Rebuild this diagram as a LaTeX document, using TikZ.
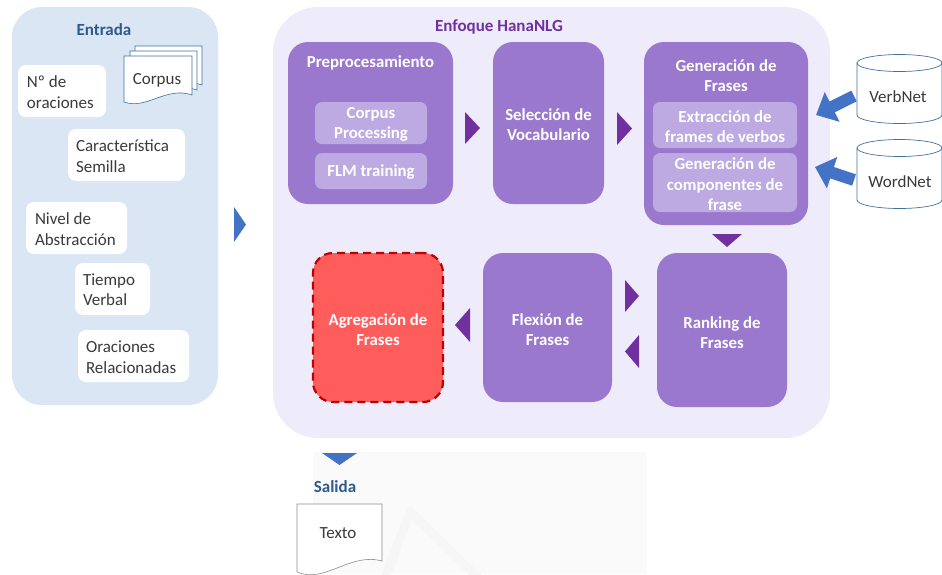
\documentclass[tikz,border=0pt]{standalone}
\usepackage{fontspec}
\setmainfont{Carlito}
\usetikzlibrary{arrows.meta}

\definecolor{leftblue}{HTML}{DAE6F4}
\definecolor{titleblue}{HTML}{2F5A8C}
\definecolor{panelpurple}{HTML}{EEECFB}
\definecolor{boxpurple}{HTML}{9A78CE}
\definecolor{innerpurple}{HTML}{BEAAE2}
\definecolor{darkpurple}{HTML}{7030A0}
\definecolor{redfill}{HTML}{FF5C5C}
\definecolor{redline}{HTML}{C00000}
\definecolor{arrowblue}{HTML}{4472C4}
\definecolor{cylline}{HTML}{41719C}
\definecolor{docline}{HTML}{8C8C8C}
\definecolor{textgray}{HTML}{3A3A3A}

\begin{document}
\begin{tikzpicture}[x=1pt,y=-1pt,
  every node/.style={inner sep=0pt, outer sep=0pt},
  panel/.style={rounded corners=#1},
  wbox/.style={fill=white, rounded corners=8pt},
  pbox/.style={fill=boxpurple, rounded corners=20pt},
  ibox/.style={fill=innerpurple, rounded corners=7pt},
  regtext/.style={text=textgray, font=\fontsize{17}{20.5}\selectfont, align=left, anchor=west},
  plaintext/.style={text=textgray, font=\fontsize{17}{20.5}\selectfont, align=center},
  wtext/.style={text=white, font=\bfseries\fontsize{16.8}{20.5}\selectfont, align=center},
  headtext/.style={font=\bfseries\fontsize{17}{20}\selectfont},
  chev/.style={fill=darkpurple},
  bchev/.style={fill=arrowblue},
  docshape/.style={fill=white, draw=cylline, line width=0.6pt},
  cylshape/.style={fill=white, draw=cylline, line width=0.7pt},
  blockarrow/.style={draw=arrowblue, line width=12pt,
    -{Triangle[length=18pt, width=32pt, fill=arrowblue]}},
]
\useasboundingbox (0,0) rectangle (942,574);

% faint background band below the main panel
\fill[black!2] (313,452) rectangle (647,574);
\draw[black!3.5, line width=9pt, line join=round] (385,578) -- (410,512) -- (478,578);

% ---------- input panel ----------
\node[fill=leftblue, panel=30pt, minimum width=206pt, minimum height=398pt] (entrada) at (115,206) {};
\node[headtext, text=titleblue] (entradaT) at (104,30) {Entrada};

\node[wbox, minimum width=88pt,  minimum height=52pt] (nOr)  at (62,91) {};
\node[wbox, minimum width=117pt, minimum height=52pt] (cSem) at (126.5,155) {};
\node[wbox, minimum width=101pt, minimum height=52pt] (nAbs) at (76.5,228) {};
\node[wbox, minimum width=75pt,  minimum height=52pt] (tVer) at (112.5,289) {};
\node[wbox, minimum width=111pt, minimum height=52pt] (oRel) at (133.5,356) {};

\node[regtext] (nOrT)  at (27,92)    {Nº de\\oraciones};
\node[regtext] (cSemT) at (76,156)   {Característica\\Semilla};
\node[regtext] (nAbsT) at (35,229)   {Nivel de\\Abstracción};
\node[regtext] (tVerT) at (83,289.5) {Tiempo\\Verbal};
\node[regtext] (oRelT) at (86,357)   {Oraciones\\Relacionadas};

% corpus: stacked documents
\draw[docshape] (135,46) -- (202,46) -- (202,85) .. controls (177,76) and (158,100) .. (135,92) -- cycle;
\draw[docshape] (130,51) -- (197,51) -- (197,90) .. controls (172,81) and (153,105) .. (130,97) -- cycle;
\draw[docshape] (124,56) -- (192,56) -- (192,95) .. controls (166,86) and (147,110) .. (124,102) -- cycle;
\node[plaintext] (corpus) at (157,80) {Corpus};

% input -> approach
\fill[bchev] (234,207) -- (246,224.5) -- (234,242) -- cycle;

% ---------- HanaNLG panel ----------
\node[fill=panelpurple, panel=45pt, minimum width=557pt, minimum height=431pt] (hana) at (551.5,222.5) {};
\node[headtext, text=darkpurple] (hanaT) at (499,27) {Enfoque HanaNLG};

% preprocessing
\node[pbox, minimum width=165pt, minimum height=162pt] (pre) at (370.5,123) {};
\node[wtext] (preT) at (370.5,63) {Preprocesamiento};
\node[ibox, minimum width=112pt, minimum height=42pt] (cproc) at (371,123) {};
\node[wtext] (cprocT) at (371,124.5) {Corpus\\Processing};
\node[ibox, minimum width=112pt, minimum height=36pt] (flm) at (371,171) {};
\node[wtext] (flmT) at (371,172) {FLM training};

% vocabulary selection
\node[pbox, minimum width=111pt, minimum height=162pt] (voc) at (548.5,123) {};
\node[wtext] (vocT) at (548.5,124.5) {Selección de\\Vocabulario};

% phrase generation
\node[pbox, minimum width=164pt, minimum height=183pt] (gen) at (726,133.5) {};
\node[wtext] (genT) at (726,75.5) {Generación de\\Frases};
\node[ibox, minimum width=144pt, minimum height=46pt] (ext) at (725,125) {};
\node[wtext] (extT) at (725,126.5) {Extracción de\\frames de verbos};
\node[ibox, minimum width=144pt, minimum height=59pt] (comp) at (725,182.5) {};
\node[wtext] (compT) at (725,184.5) {Generación de\\componentes de\\frase};

% ranking, inflection, aggregation
\node[pbox, minimum width=130pt, minimum height=154pt] (rank) at (722,330) {};
\node[wtext] (rankT) at (722,332.5) {Ranking de\\Frases};
\node[pbox, minimum width=129pt, minimum height=149pt] (flex) at (547.5,327.5) {};
\node[wtext] (flexT) at (547.5,329.5) {Flexión de\\Frases};
\node[fill=redfill, draw=redline, line width=2.2pt, dash pattern=on 8pt off 5pt,
      rounded corners=20pt, minimum width=130pt, minimum height=149pt] (agg) at (378,327.5) {};
\node[wtext] (aggT) at (378,329.5) {Agregación de\\Frases};

% flow markers between the stages
\fill[chev] (465,112) -- (480,128) -- (465,144) -- cycle;
\fill[chev] (617,112) -- (632,128.5) -- (617,145) -- cycle;
\fill[chev] (712,234) -- (742,234) -- (727,247) -- cycle;
\fill[chev] (625,280) -- (639,296) -- (625,312) -- cycle;
\fill[chev] (639,335) -- (625,351.5) -- (639,368) -- cycle;
\fill[chev] (470,308) -- (455,325) -- (470,342) -- cycle;

% ---------- lexical resources ----------
\draw[cylshape] (857,63) -- (857,115) arc[start angle=180, end angle=0, x radius=42.5, y radius=8.5] -- (942,63);
\draw[cylshape] (899.5,63) ellipse [x radius=42.5, y radius=8.5];
\node[plaintext] (vn) at (898,97) {VerbNet};

\draw[cylshape] (857,148) -- (857,200) arc[start angle=180, end angle=0, x radius=42.5, y radius=8.5] -- (942,148);
\draw[cylshape] (899.5,148) ellipse [x radius=42.5, y radius=8.5];
\node[plaintext] (wn) at (900,182) {WordNet};

\coordinate (vnTail) at (854,96);
\coordinate (vnTip)  at (816,115);
\coordinate (wnTail) at (854,180);
\coordinate (wnTip)  at (815,167);
\draw[blockarrow] (vnTail) -- (vnTip);
\draw[blockarrow] (wnTail) -- (wnTip);

% ---------- output ----------
\fill[bchev] (322,453) -- (357,453) -- (339.5,465) -- cycle;
\node[headtext, text=titleblue] (salida) at (335,487) {Salida};
\draw[fill=white, draw=docline, line width=0.6pt] (297,504) -- (382,504) -- (382,561)
  .. controls (350,552) and (325,584) .. (297,572) -- cycle;
\node[plaintext] (texto) at (338,533) {Texto};

\end{tikzpicture}
\end{document}
